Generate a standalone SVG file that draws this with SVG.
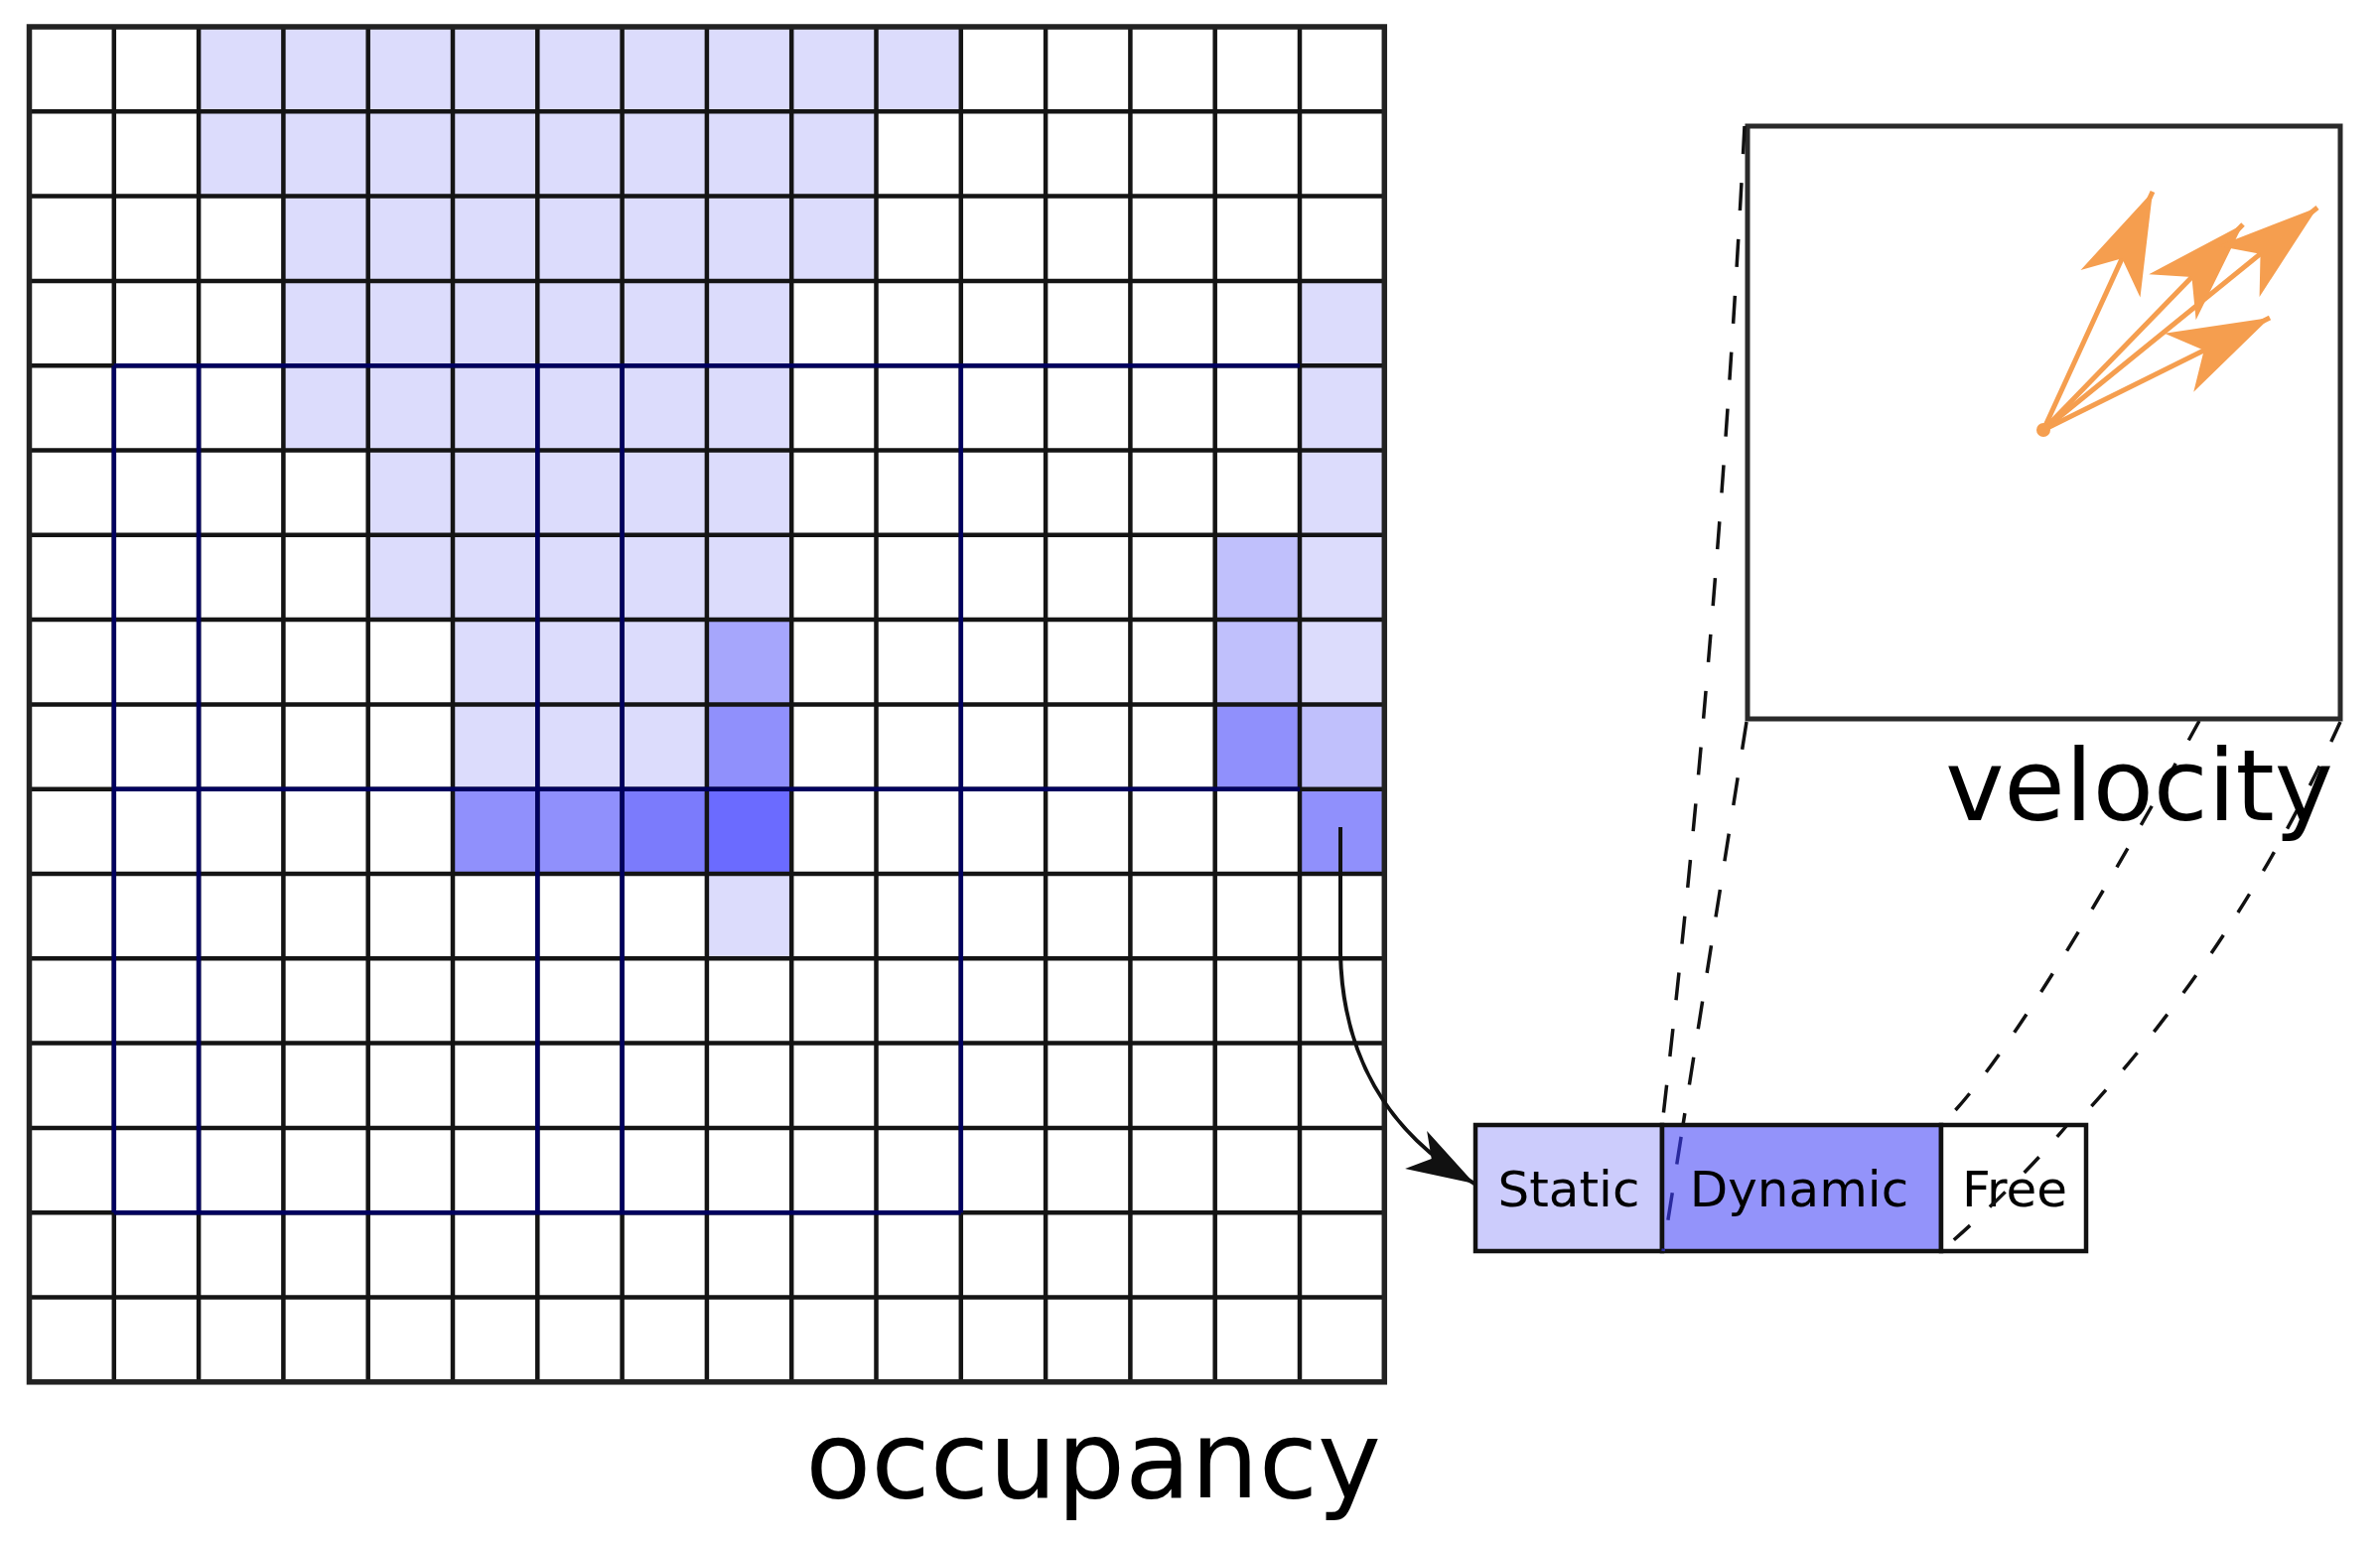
<svg xmlns="http://www.w3.org/2000/svg" width="2397" height="1560" viewBox="0 0 2397 1560">
<style>
.l{fill:#dcdcfc}.m{fill:#c0c0fc}.a{fill:#a6a6fc}.d{fill:#9090fc}.e{fill:#7b7bfc}.f{fill:#6b6bff}
.gl{fill:none;stroke:#141414;stroke-width:4.5}
.nv{fill:none;stroke:#00005e;stroke-width:4.5}
.dash{fill:none;stroke:#111;stroke-width:3.5;stroke-dasharray:28 29}
.dashr{fill:none;stroke:#111;stroke-width:3.5;stroke-dasharray:22 27}
.lbl{font-family:"DejaVu Sans",sans-serif;fill:#000}
.box{stroke:#111;stroke-width:4.5}
.oar{stroke:#f59e4f;stroke-width:5;fill:none;marker-end:url(#oa)}
</style>
<defs>
<marker id="oa" markerUnits="userSpaceOnUse" viewBox="-105 -38 110 76" markerWidth="110" markerHeight="76" refX="0" refY="0" orient="auto">
<path d="M0,0 L-102,-33 L-74,0 L-102,33 Z" fill="#f59e4f"/>
</marker>
<marker id="ba" markerUnits="userSpaceOnUse" viewBox="-75 -30 80 60" markerWidth="80" markerHeight="60" refX="0" refY="0" orient="auto">
<path d="M0,0 L-68,-22 L-50,0 L-68,22 Z" fill="#111"/>
</marker>
</defs>
<rect width="2397" height="1560" fill="#fff"/>

<g id="occupancy-grid">
<g id="cells">
<rect class="l" x="200.1" y="27" width="767.7" height="85.3"/>
<rect class="l" x="200.1" y="112.3" width="682.4" height="85.3"/>
<rect class="l" x="285.4" y="197.6" width="597.1" height="85.3"/>
<rect class="l" x="285.4" y="282.9" width="511.8" height="170.6"/>
<rect class="l" x="370.7" y="453.5" width="426.5" height="170.6"/>
<rect class="l" x="456" y="624.1" width="255.9" height="170.6"/>
<rect class="a" x="711.9" y="624.1" width="85.3" height="85.3"/>
<rect class="d" x="711.9" y="709.4" width="85.3" height="85.3"/>
<rect class="d" x="456" y="794.7" width="170.6" height="85.3"/>
<rect class="e" x="626.6" y="794.7" width="85.3" height="85.3"/>
<rect class="f" x="711.9" y="794.7" width="85.3" height="85.3"/>
<rect class="l" x="711.9" y="880" width="85.3" height="85.3"/>
<rect class="l" x="1309" y="282.9" width="85.3" height="426.5"/>
<rect class="m" x="1309" y="709.4" width="85.3" height="85.3"/>
<rect class="d" x="1309" y="794.7" width="85.3" height="85.3"/>
<rect class="m" x="1223.7" y="538.8" width="85.3" height="170.6"/>
<rect class="d" x="1223.7" y="709.4" width="85.3" height="85.3"/>
</g>
<path class="gl" d="M114.8,27V1391.8M200.1,27V1391.8M285.4,27V1391.8M370.7,27V1391.8M456,27V1391.8M541.3,27V1391.8M626.6,27V1391.8M711.9,27V1391.8M797.2,27V1391.8M882.5,27V1391.8M967.8,27V1391.8M1053.1,27V1391.8M1138.4,27V1391.8M1223.7,27V1391.8M1309,27V1391.8
M29.5,112.3H1394.3M29.5,197.6H1394.3M29.5,282.9H1394.3M29.5,368.2H1394.3M29.5,453.5H1394.3M29.5,538.8H1394.3M29.5,624.1H1394.3M29.5,709.4H1394.3M29.5,794.7H1394.3M29.5,880H1394.3M29.5,965.3H1394.3M29.5,1050.6H1394.3M29.5,1135.9H1394.3M29.5,1221.2H1394.3M29.5,1306.5H1394.3"/>
<path class="nv" d="M114.8,368.2H1309M114.8,794.7H1309M114.8,1221.2H967.8M114.8,368.2V1221.2M200.1,368.2V1221.2M541.3,368.2V1221.2M626.6,368.2V1221.2M967.8,368.2V1221.2"/>
<rect x="29.5" y="27" width="1364.8" height="1364.8" fill="none" stroke="#222" stroke-width="5.5"/>
<text class="lbl" x="1391" y="1508" font-size="108" text-anchor="end">occupancy</text>
</g>

<g id="connectors-back">
<path class="dashr" d="M2215,726 Q2031,1061 1955,1133"/>
<path class="dashr" d="M2357,727 Q2214,1044 1955,1260"/>
</g>

<g id="velocity">
<rect x="1760" y="127" width="597" height="597" fill="#fff" stroke="#2a2a2a" stroke-width="5"/>
<g id="velocity-arrows">
<line class="oar" x1="2058" y1="433" x2="2168" y2="193"/>
<line class="oar" x1="2058" y1="433" x2="2259" y2="226"/>
<line class="oar" x1="2058" y1="433" x2="2334" y2="209"/>
<line class="oar" x1="2058" y1="433" x2="2286" y2="320"/>
<circle cx="2058" cy="433" r="7" fill="#f59e4f"/>
</g>
<text class="lbl" x="2350" y="826" font-size="100" text-anchor="end">velocity</text>
</g>

<g id="state">
<rect id="static" class="box" x="1486" y="1133" width="188" height="127" fill="#ccccfc"/>
<rect id="dynamic" class="box" x="1674" y="1133" width="281" height="127" fill="#9393fa"/>
<rect id="free" class="box" x="1955" y="1133" width="146" height="127" fill="#fff"/>
<text class="lbl" x="1580" y="1215" font-size="50" text-anchor="middle">Static</text>
<text class="lbl" x="1812" y="1215" font-size="50" text-anchor="middle">Dynamic</text>
<text class="lbl" x="2029" y="1215" font-size="50" text-anchor="middle">Free</text>
</g>

<g id="connectors">
<path d="M1350,833 L1350,960 C1352,1060 1395,1140 1485,1192" fill="none" stroke="#111" stroke-width="4" marker-end="url(#ba)"/>
<path class="dash" d="M1757,127 Q1730,650 1674,1133"/>
<path class="dash" d="M1759,727 L1695,1133"/>
<path class="dash" d="M1695,1133 L1675,1260" style="stroke:#2a2a9e;stroke-dashoffset:-12"/>
<path class="dashr" d="M2082,1133 Q2030,1195 1955,1260" style="stroke-dashoffset:6"/>
</g>
</svg>
